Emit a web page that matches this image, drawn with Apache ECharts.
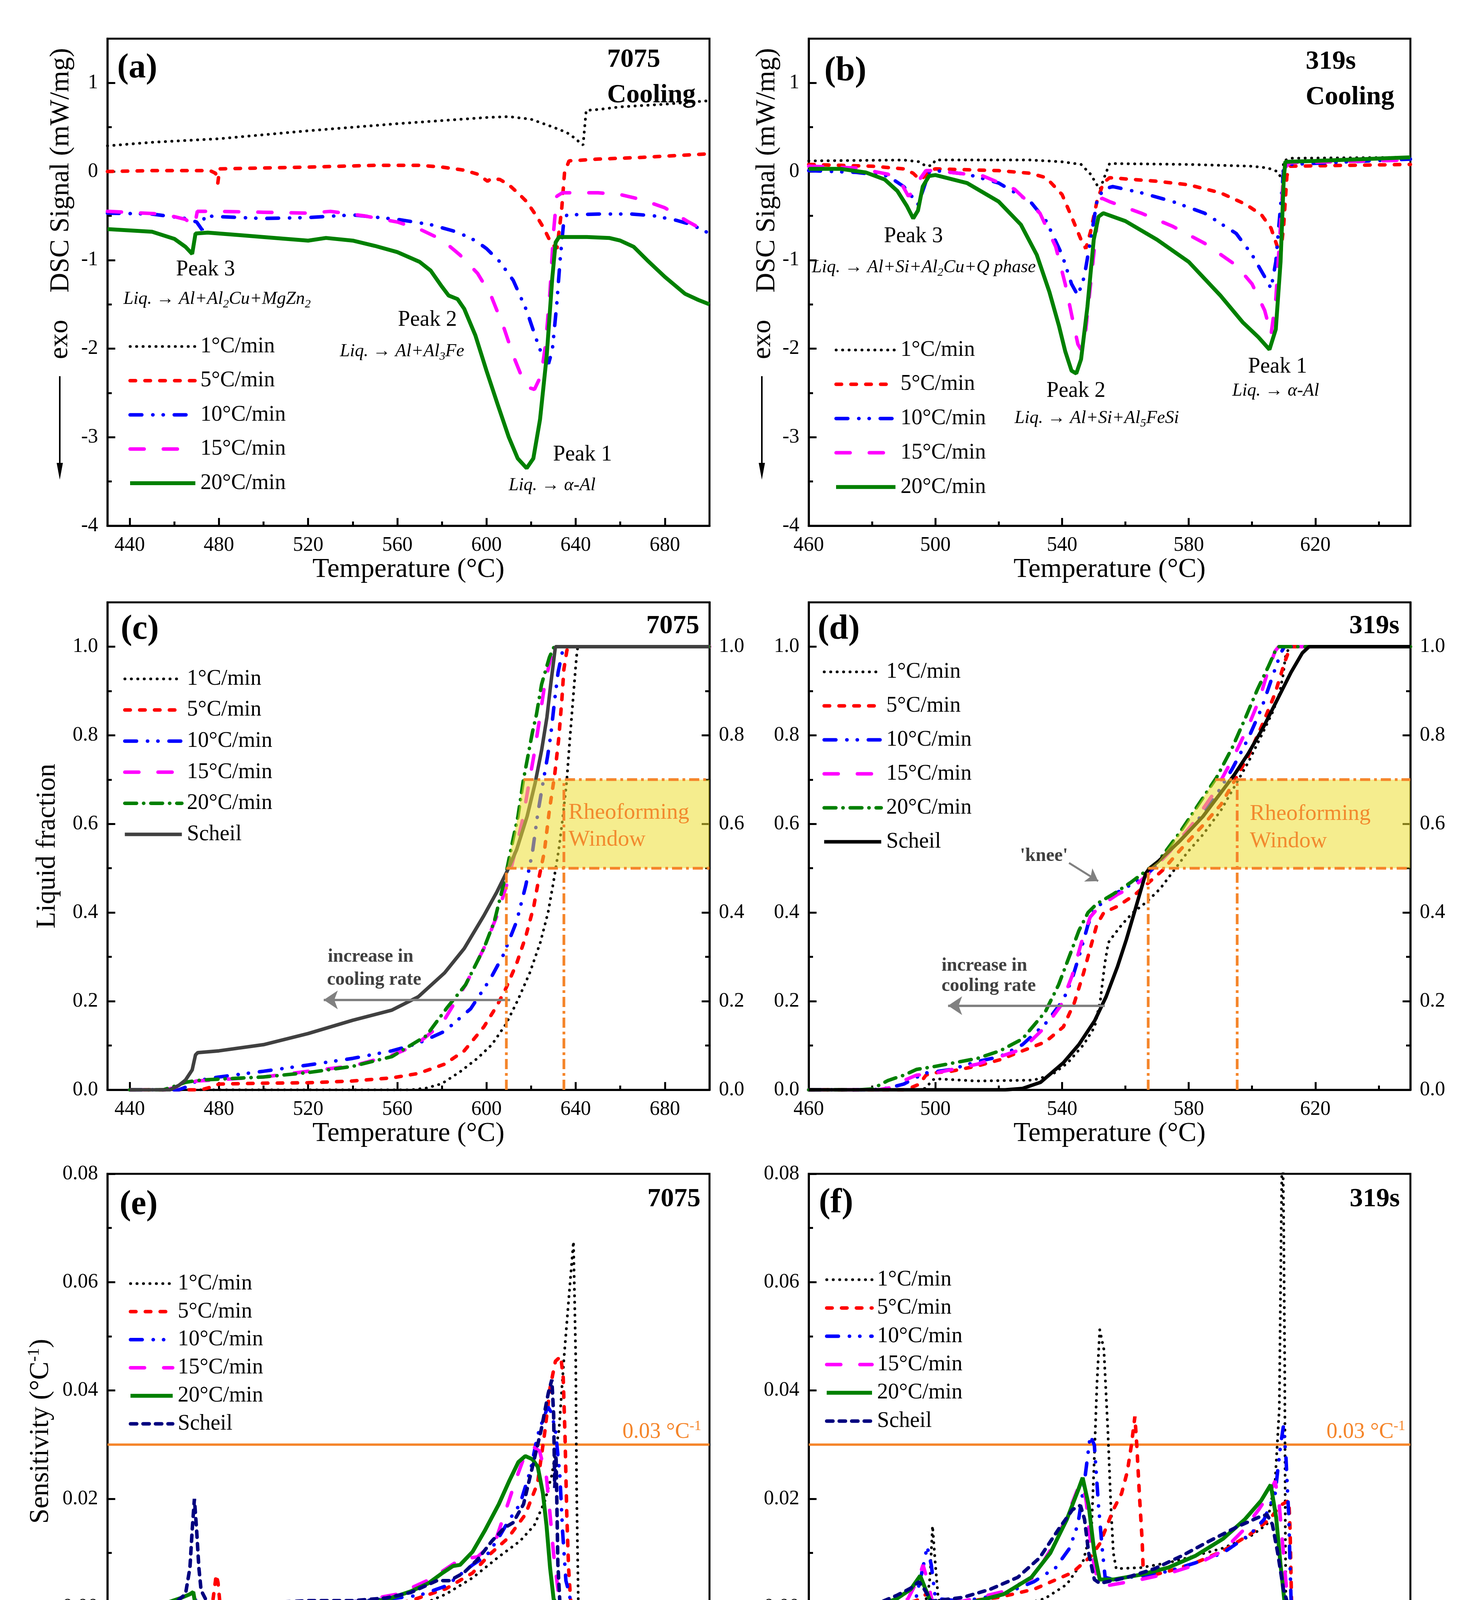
<!DOCTYPE html>
<html>
<head>
<meta charset="utf-8">
<script src="https://cdn.jsdelivr.net/npm/echarts@6.0.0/dist/echarts.min.js"></script>
<style>
  html, body { margin: 0; padding: 0; background: #fff; }
  #chart { width: 3760px; height: 4460px; }
</style>
</head>
<body>
<div id="chart"></div>
<script>
// ---- tick values ----
const xTicks7075 = [440, 480, 520, 560, 600, 640, 680];
const xMinor7075 = [460, 500, 540, 580, 620, 660];
const xTicks319 = [460, 500, 540, 580, 620];
const xMinor319 = [480, 520, 560, 600, 640];
const yTicksDsc = [-4, -3, -2, -1, 0, 1];
const yMinorDsc = [-3.5, -2.5, -1.5, -0.5, 0.5];
const yTicksFrac = [0, 0.2, 0.4, 0.6, 0.8, 1.0];
const yMinorFrac = [0.1, 0.3, 0.5, 0.7, 0.9];
const yTicksSens = [0, 0.02, 0.04, 0.06, 0.08];
const yMinorSens = [-0.01, 0.01, 0.03, 0.05, 0.07];

const rateNames = ['1°C/min', '5°C/min', '10°C/min', '15°C/min', '20°C/min'];

// ---- (a) 7075 DSC, mW/mg ----
const dscA1 = [[430,0.29],[450,0.33],[480,0.37],[520,0.46],[560,0.54],[600,0.61],[610,0.62],[620,0.59],[630,0.5],[636,0.44],[640,0.37],[642.5,0.31],[643.3,0.30],[644.7,0.69],[650,0.70],[660,0.73],[680,0.76],[700,0.8]];
const dscA5 = [[430,0.0],[450,0.01],[476,0.01],[478.5,-0.02],[479.5,-0.13],[480.3,0.03],[500,0.04],[520,0.05],[550,0.07],[570,0.07],[580,0.05],[590,0.015],[596,-0.03],[600.5,-0.11],[602,-0.08],[606,-0.09],[610,-0.15],[614,-0.24],[618,-0.34],[622.6,-0.51],[625.7,-0.64],[629,-0.81],[631.6,-0.87],[633.7,-0.43],[635,-0.01],[637,0.12],[650,0.14],[670,0.16],[700,0.2]];
const dscA10 = [[430,-0.47],[450,-0.48],[465,-0.53],[470,-0.57],[472.5,-0.66],[473.5,-0.5],[480,-0.51],[500,-0.53],[520,-0.52],[540,-0.49],[560,-0.54],[575,-0.6],[585,-0.67],[590,-0.72],[595,-0.78],[600,-0.87],[606,-1.02],[612,-1.23],[618,-1.57],[622,-1.87],[625,-2.08],[627.8,-2.17],[629.5,-2.02],[631.5,-1.5],[633,-1.0],[634.5,-0.6],[636,-0.49],[650,-0.48],[665,-0.48],[675,-0.5],[685,-0.55],[692,-0.6],[700,-0.7]];
const dscA15 = [[430,-0.45],[455,-0.48],[465,-0.54],[469,-0.62],[470.3,-0.45],[480,-0.45],[500,-0.46],[520,-0.47],[530,-0.45],[545,-0.5],[560,-0.57],[570,-0.65],[580,-0.77],[588,-0.94],[596,-1.15],[602,-1.4],[608,-1.78],[612,-2.08],[616,-2.33],[619,-2.44],[621.5,-2.46],[624.5,-2.3],[626.5,-1.95],[628.5,-1.35],[630,-0.7],[631.5,-0.28],[634,-0.24],[650,-0.24],[660,-0.26],[670,-0.32],[680,-0.41],[690,-0.56],[700,-0.7]];
const dscA20 = [[430,-0.65],[450,-0.68],[460,-0.76],[465,-0.85],[468,-0.93],[469.5,-0.7],[475,-0.69],[490,-0.72],[510,-0.76],[520,-0.78],[528,-0.75],[540,-0.78],[550,-0.84],[560,-0.91],[570,-1.02],[575,-1.12],[580,-1.3],[583,-1.4],[587,-1.44],[590,-1.55],[595,-1.85],[600,-2.25],[605,-2.63],[610,-3.0],[614,-3.24],[618,-3.35],[621,-3.24],[624,-2.8],[627,-2.08],[629.5,-1.2],[631,-0.8],[632.5,-0.74],[645,-0.74],[655,-0.75],[660,-0.78],[666,-0.85],[672,-1.0],[680,-1.19],[689,-1.38],[695,-1.45],[700,-1.5]];

// ---- (b) 319s DSC, mW/mg ----
const dscB1 = [[460,0.12],[490,0.13],[495,0.11],[497,0.06],[499,0.07],[500,0.13],[530,0.13],[540,0.11],[546,0.08],[549,-0.03],[551,-0.15],[552,-0.2],[553.5,-0.05],[555,0.09],[580,0.08],[600,0.06],[605,0.04],[608,0.0],[609.5,-0.09],[610,0.12],[612,0.15],[650,0.16]];
const dscB5 = [[460,0.08],[480,0.06],[490,0.03],[493,-0.02],[495,-0.09],[497,-0.05],[498,0.01],[500,0.03],[520,0.01],[530,-0.02],[535,-0.07],[540,-0.26],[543,-0.51],[546,-0.77],[547.5,-0.87],[549,-0.68],[551,-0.34],[553,-0.13],[555,-0.07],[570,-0.11],[580,-0.15],[590,-0.24],[598,-0.37],[603,-0.49],[606,-0.64],[608,-0.85],[609,-0.94],[610,-0.6],[611,-0.05],[612,0.06],[650,0.08]];
const dscB10 = [[460,0.01],[475,-0.01],[485,-0.05],[490,-0.17],[493,-0.3],[494.5,-0.37],[496,-0.22],[498,-0.01],[500,0.01],[510,-0.03],[520,-0.13],[530,-0.34],[535,-0.56],[540,-0.94],[543,-1.27],[545,-1.4],[547,-1.19],[549,-0.77],[551,-0.34],[553,-0.2],[556,-0.17],[565,-0.24],[575,-0.34],[585,-0.47],[595,-0.7],[600,-0.94],[604,-1.19],[606,-1.32],[607.5,-1.02],[609,-0.39],[610,0.03],[612,0.08],[650,0.14]];
const dscB15 = [[460,0.06],[475,0.04],[485,-0.03],[489,-0.12],[491.5,-0.28],[493,-0.22],[495,-0.09],[497,0.01],[500,0.01],[515,-0.05],[525,-0.2],[533,-0.47],[538,-0.85],[541,-1.27],[543.5,-1.7],[545,-1.95],[546,-2.01],[547.5,-1.78],[549,-1.27],[551,-0.6],[552.5,-0.3],[555,-0.34],[565,-0.47],[575,-0.62],[585,-0.81],[595,-1.06],[600,-1.27],[604,-1.57],[606,-1.84],[607.5,-1.44],[609,-0.6],[610,0.03],[612,0.1],[650,0.13]];
const dscB20 = [[460,0.03],[470,0.03],[478,-0.01],[484,-0.09],[488,-0.22],[491,-0.39],[493,-0.53],[494.5,-0.44],[496,-0.17],[498,-0.05],[500,-0.04],[510,-0.13],[520,-0.34],[527,-0.6],[532,-0.94],[536,-1.36],[539,-1.74],[541,-2.03],[543,-2.25],[544.5,-2.28],[546,-2.12],[548,-1.53],[550,-0.77],[551.5,-0.51],[553,-0.47],[560,-0.56],[570,-0.77],[580,-1.02],[590,-1.4],[597,-1.7],[602,-1.87],[605.5,-2.01],[607.5,-1.78],[609,-1.02],[610,-0.09],[610.5,0.11],[620,0.12],[650,0.16]];

// ---- (c) 7075 liquid fraction ----
const fracC1 = [[440,0],[566,0],[573,0.004],[580,0.014],[588.2,0.041],[595.9,0.071],[602.4,0.102],[608.8,0.149],[614.1,0.203],[619.4,0.264],[624.1,0.332],[627.6,0.4],[630,0.468],[632.4,0.542],[634.1,0.61],[635.9,0.692],[637.4,0.793],[638.8,0.881],[640,0.956],[640.6,0.99],[641,1],[700,1]];
const fracC5 = [[440,0],[472,0],[477,0.007],[480,0.013],[500,0.015],[520,0.016],[540,0.02],[557.6,0.027],[569.4,0.037],[581.2,0.058],[590,0.088],[598.8,0.142],[604.7,0.19],[608.8,0.23],[613.5,0.285],[617.6,0.346],[621.2,0.414],[623.5,0.478],[625.9,0.536],[628.2,0.631],[630.6,0.712],[632.4,0.793],[633.8,0.881],[634.7,0.949],[636,0.99],[636.5,1],[700,1]];
const fracC10 = [[440,0],[462,0],[466,0.008],[470,0.02],[475,0.025],[480,0.029],[500,0.042],[520,0.056],[540,0.071],[557.6,0.088],[569.4,0.105],[581.2,0.132],[592.9,0.183],[601.8,0.251],[607.6,0.305],[613.5,0.38],[617.6,0.461],[620.6,0.536],[623,0.624],[625.3,0.692],[627.4,0.753],[628.8,0.8],[630.6,0.881],[632.1,0.942],[634.1,0.99],[634.5,1],[700,1]];
const fracC15 = [[440,0],[456,0],[460,0.005],[465,0.013],[470,0.02],[480,0.023],[500,0.029],[520,0.042],[540,0.054],[557.6,0.078],[568,0.1],[580,0.149],[590.6,0.237],[598.8,0.319],[604.7,0.393],[609.4,0.468],[613,0.54],[616.5,0.617],[618.8,0.685],[621.2,0.753],[623.5,0.827],[625.9,0.908],[628.8,0.976],[630.6,0.993],[631,1],[700,1]];
const fracC20 = [[440,0],[455,0],[460,0.008],[465,0.017],[470,0.021],[475,0.023],[500,0.029],[520,0.039],[540,0.053],[557.6,0.075],[573,0.122],[582.4,0.186],[590.6,0.237],[598.8,0.319],[603.5,0.38],[608.2,0.475],[611.8,0.563],[614.1,0.617],[616.5,0.698],[620.6,0.807],[622.4,0.847],[624.7,0.915],[628.2,0.976],[630,0.997],[630.5,1],[700,1]];
const fracCScheil = [[440,0],[458,0],[462,0.01],[465,0.022],[468,0.045],[469.5,0.079],[470.5,0.084],[480,0.088],[500,0.102],[520,0.127],[540,0.157],[557.6,0.18],[569.4,0.21],[581.2,0.264],[590,0.319],[598.8,0.393],[604.7,0.447],[609.4,0.495],[613.5,0.542],[618.2,0.617],[621.8,0.692],[624.7,0.766],[627.1,0.841],[628.8,0.915],[630.9,1],[700,1]];

// ---- (d) 319s liquid fraction ----
const fracD1 = [[460,0],[495,0],[497,0.004],[499,0.022],[500,0.025],[513,0.02],[531,0.022],[536.8,0.034],[541.8,0.061],[546.8,0.102],[550.3,0.142],[552.1,0.203],[553.5,0.285],[554.6,0.332],[556,0.346],[558.9,0.373],[562.4,0.4],[566.7,0.424],[571,0.454],[575.3,0.495],[579.6,0.536],[584.5,0.576],[590.2,0.631],[594.5,0.685],[598.8,0.739],[603,0.8],[606.6,0.854],[608.7,0.895],[609.8,0.936],[610.5,0.976],[611.6,0.997],[612,1],[650,1]];
const fracD5 = [[460,0],[490,0],[492,0.004],[495,0.013],[497,0.033],[499,0.038],[505,0.042],[513.3,0.054],[520.4,0.068],[527.5,0.088],[534.7,0.108],[540.4,0.142],[543.9,0.197],[546.8,0.264],[548.9,0.319],[551,0.373],[553.2,0.4],[557.5,0.414],[563.1,0.441],[567.4,0.468],[571.7,0.495],[577.4,0.542],[584.5,0.597],[590.2,0.644],[594.5,0.698],[598.8,0.753],[603,0.82],[607.3,0.895],[610.2,0.963],[611.6,0.99],[612.2,1],[650,1]];
const fracD10 = [[460,0],[480,0],[485,0.004],[490,0.013],[494,0.028],[497,0.038],[505,0.046],[513.3,0.064],[520.4,0.075],[527.5,0.102],[534.7,0.149],[540.4,0.203],[543.2,0.251],[546.1,0.319],[548.2,0.373],[550.3,0.407],[554.6,0.434],[559.6,0.454],[564.6,0.475],[568.1,0.495],[573.8,0.536],[580.9,0.59],[588.1,0.658],[593.8,0.725],[598.8,0.793],[603,0.861],[606.6,0.936],[609.1,0.986],[610.2,1],[650,1]];
const fracD15 = [[460,0],[482,0],[486,0.005],[490,0.021],[494,0.033],[500,0.038],[513.3,0.058],[527.5,0.092],[534.7,0.142],[539.6,0.19],[543.2,0.258],[546.1,0.332],[548.9,0.39],[551.8,0.414],[557.5,0.441],[563.1,0.461],[567.4,0.488],[573.8,0.536],[580.9,0.597],[588.1,0.671],[593.8,0.746],[598.8,0.82],[602.3,0.881],[605.2,0.949],[607.3,0.99],[608.4,1],[650,1]];
const fracD20 = [[460,0],[476,0],[480,0.002],[485,0.021],[490,0.033],[494,0.046],[500,0.053],[513.3,0.071],[520.4,0.088],[527.5,0.115],[534.7,0.176],[538.9,0.237],[542.5,0.305],[545.3,0.359],[548.2,0.4],[551,0.42],[556,0.441],[561.7,0.468],[566.7,0.495],[570.3,0.515],[577.4,0.583],[583.1,0.644],[588.8,0.705],[593.8,0.773],[598,0.841],[601.6,0.902],[605.2,0.956],[607.3,0.99],[608.5,1],[650,1]];
const fracDScheil = [[460,0],[522,0],[527.5,0.003],[533.2,0.017],[540.4,0.061],[545.3,0.102],[550.3,0.156],[553.9,0.21],[557.5,0.278],[560.3,0.339],[563.1,0.407],[565.3,0.461],[566.4,0.488],[567.4,0.498],[570.3,0.515],[577.4,0.563],[584.5,0.617],[590.2,0.671],[594.5,0.712],[598.8,0.759],[603.7,0.82],[608,0.881],[612.3,0.942],[615.9,0.986],[618,1],[650,1]];

// ---- (e) 7075 sensitivity, 1/°C ----
const sensE1 = [[440,0],[545,0],[550,-0.0002],[557,-0.0005],[566,0.0005],[575,0.0012],[581.8,0.0024],[593.7,0.0054],[605.5,0.0093],[615,0.0122],[621.4,0.0151],[626.1,0.0195],[629.3,0.0244],[632.5,0.0327],[634.8,0.0463],[637.2,0.0585],[639,0.0675],[640,0.0463],[640.4,0.022],[641.2,0],[700,0]];
const sensE5 = [[440,0],[470,0],[477,0.0003],[478.8,0.006],[479.6,0.0045],[480.5,0.0005],[482,0],[500,-0.0002],[540,0],[560,0.0007],[566,0.0012],[581.8,0.0034],[593.7,0.0063],[601.6,0.0098],[609.5,0.0127],[617.4,0.0171],[622.9,0.0229],[626.1,0.0322],[628.5,0.0405],[630.9,0.0454],[633.3,0.0463],[634.4,0.0424],[635.2,0.0317],[636,0.0171],[636.8,0.0073],[637.6,0.002],[638,0],[700,0]];
const sensE10 = [[440,0],[450,-0.0003],[460,0.0001],[467,0.001],[470,0.0014],[472,0.0003],[480,0.0005],[500,0.0007],[540,0.001],[560,0.0017],[570,0.0022],[581.8,0.0039],[593.7,0.0078],[600,0.0095],[605,0.0125],[610,0.016],[615,0.019],[619.8,0.0254],[622.9,0.0317],[625.3,0.0346],[627.5,0.037],[629,0.036],[630.9,0.0327],[632.9,0.0244],[634.1,0.0141],[635.6,0.0049],[637.2,0.0024],[638,0],[700,0]];
const sensE15 = [[440,0],[450,-0.0002],[460,0.0003],[466,0.0017],[468.5,0.0025],[470,0.0003],[480,0.0002],[500,0.0005],[540,0.0009],[560,0.0024],[575,0.0052],[588.1,0.0088],[596,0.0093],[604,0.0122],[608.7,0.018],[613.5,0.0239],[617.4,0.0283],[621.4,0.0295],[623.8,0.0288],[626.9,0.0239],[628.5,0.0171],[630.1,0.0098],[631.7,0.0044],[632.9,0.0005],[633.5,0],[700,0]];
const sensE20 = [[440,0],[450,0.0003],[458,0.001],[463,0.0017],[467,0.0024],[468.5,0.0028],[469.5,0.0003],[480,0.0002],[500,0.0003],[520,0.0007],[540,0.0007],[555,0.0014],[566,0.0029],[573.9,0.0044],[580.2,0.0063],[585,0.0076],[588.1,0.0078],[593.7,0.0102],[599.2,0.0141],[605.5,0.019],[610.3,0.0234],[614.3,0.0268],[617.4,0.0279],[620.6,0.0273],[623,0.0259],[625.3,0.021],[626.9,0.0151],[628.5,0.0073],[630.1,0.0015],[632.1,0],[700,0]];
const sensEScheil = [[440,0],[455,0.0003],[460,0.0007],[465,0.0024],[467,0.0073],[468,0.0142],[469,0.02],[470,0.0142],[471,0.0073],[472,0.0031],[475,0.0007],[480,0.0004],[500,0.0008],[520,0.0012],[540,0.0012],[555,0.0017],[566,0.0027],[577.8,0.0049],[583.4,0.0049],[589.7,0.0063],[596,0.0088],[602.4,0.0122],[607.9,0.0146],[611.9,0.0156],[616.6,0.019],[620.6,0.0259],[624.5,0.0327],[627.7,0.0395],[629.3,0.042],[630.1,0.0356],[630.6,0.022],[631.2,0.028],[632,0.008],[633,0],[700,0]];
const sensEScheilTail = [[461,-0.0098],[462,-0.0078]];

// ---- (f) 319s sensitivity, 1/°C ----
const sensF1 = [[460,0],[495.7,0],[497.5,0.002],[498.3,0.0055],[499.1,0.015],[500,0.0078],[500.9,0.0016],[502.6,-0.0004],[517.3,-0.0004],[526,0.0002],[534.6,0.0016],[541.5,0.0042],[546.7,0.0086],[549.3,0.0144],[550.2,0.0277],[551,0.041],[551.9,0.0512],[553.2,0.0476],[554.5,0.0321],[555.4,0.0188],[556.2,0.01],[557.1,0.0071],[564.9,0.0073],[573.5,0.0082],[582.2,0.0095],[590.8,0.0109],[599.5,0.0131],[604.7,0.0153],[607.3,0.0233],[608.6,0.0366],[609.2,0.07],[609.6,0.09],[610,0.07],[610.3,0.045],[610.5,0.0144],[610.7,-0.0007],[611.6,0],[650,0]];
const sensF5 = [[460,0],[480,0],[490,0.0006],[494,0.0012],[496,0.0019],[497.5,0.0026],[499,0.0009],[500,0.0006],[510,0.0011],[520,0.0018],[531.1,0.0033],[543.3,0.0064],[549.3,0.0095],[551.9,0.0117],[556.2,0.018],[558.8,0.021],[560.6,0.025],[561.9,0.0299],[563,0.0352],[563.6,0.0299],[564.4,0.021],[565.3,0.0122],[565.7,0.0055],[573.5,0.0066],[582.2,0.0082],[590.8,0.0104],[599.5,0.0135],[605.5,0.0162],[609,0.0188],[611.6,0.0197],[612,0.0144],[612.5,0],[650,0]];
const sensF10 = [[460,0],[488,0],[492,0.001],[494,0.002],[496,0.0071],[497.4,0.0112],[498.7,0.0078],[500,0.0016],[508.7,0.0011],[521.6,0.0024],[531.1,0.0047],[538,0.0073],[542.4,0.0109],[545,0.0153],[547.1,0.0233],[548.9,0.0317],[550.2,0.0299],[551.5,0.0188],[552.8,0.01],[553.6,0.0055],[556.2,0.0051],[564.9,0.0058],[573.5,0.0066],[582.2,0.0082],[590.8,0.01],[599.5,0.0135],[603.8,0.0162],[607.3,0.021],[609,0.0299],[609.9,0.0334],[610.7,0.0277],[611.6,0.0166],[612,0.0078],[612.5,-0.0024],[612.9,0],[650,0]];
const sensF15 = [[460,0],[482,0],[488,0.0009],[491.3,0.0015],[494.8,0.0055],[496.1,0.0078],[497.4,0.0051],[499.1,0.0009],[508.7,0.0011],[521.6,0.0029],[531.1,0.0055],[538,0.0122],[542.4,0.018],[545,0.0219],[546.3,0.0228],[547.6,0.0197],[549.3,0.01],[551,0.0055],[554.5,0.004],[564.9,0.0051],[573.5,0.0062],[582.2,0.0078],[590.8,0.0104],[596.9,0.014],[602.1,0.018],[605.5,0.021],[607.3,0.0233],[608.6,0.0188],[609.9,0.01],[611.2,0.0011],[612,0],[650,0]];
const sensF20 = [[460,0],[475,0],[482.7,0.0004],[487.9,0.0016],[492.2,0.0033],[495.2,0.0058],[496.9,0.0033],[498.7,0.0007],[504.3,0.0004],[513,0.0011],[521.6,0.0024],[530.3,0.0055],[536.3,0.01],[541.5,0.0162],[545,0.0215],[546.5,0.0239],[548.4,0.0188],[550.2,0.01],[551.9,0.0051],[556.2,0.0051],[564.9,0.006],[573.5,0.0073],[582.2,0.0095],[590.8,0.0126],[597.7,0.0162],[602.9,0.0197],[605.9,0.0226],[607.6,0.0166],[609,0.0078],[610.3,0.0007],[611.6,0],[650,0]];
const sensFScheil = [[460,0],[475,0.0002],[482.7,0.0009],[487.9,0.0022],[492.2,0.0035],[494.8,0.0047],[496.5,0.0033],[498.7,0.0011],[508.7,0.0018],[517.3,0.0033],[526,0.0055],[532.9,0.0091],[538.9,0.0144],[543.3,0.018],[545.8,0.0188],[547.1,0.0162],[548.4,0.01],[550.2,0.0051],[551.9,0.0044],[560.6,0.0055],[569.2,0.0071],[577.9,0.0095],[586.5,0.0122],[595.2,0.0148],[602.1,0.0166],[604.7,0.0171],[606.4,0.0153],[608.1,0.01],[609.9,0.0033],[611.6,0],[650,0]];

// rheoforming window: liquid fraction band and its temperature limits
const windowFrac = [0.5, 0.7];
const windowTempC = [608.9, 634.7];
const windowTempD = [567.2, 595.3];
const sensLimit = 0.03;

// ---- styling ----
const FF = "'Liberation Serif','Times New Roman',serif";
const ORANGE = '#f5852a';
const ST = {
  r1:  { color: '#000000', width: 7, type: [0.5, 16], cap: 'round' },
  r5:  { color: '#ff0000', width: 9, type: [14, 24], cap: 'round' },
  r10: { color: '#0000ff', width: 9, type: [30, 28, 0.5, 26, 0.5, 28], cap: 'round' },
  r15: { color: '#ff00ff', width: 9, type: [36, 49], cap: 'round' },
  r20: { color: '#008000', width: 10, type: 'solid' },
  r20dd: { color: '#008000', width: 9, type: [30, 18, 0.5, 18], cap: 'round' },
  scheilGrey: { color: '#404040', width: 9, type: 'solid' },
  scheilBlack: { color: '#000000', width: 9, type: 'solid' },
  scheilNavy: { color: '#00007f', width: 9, type: [16, 16], cap: 'round' }
};

const grids = [
  { left: 275, top: 99, width: 1541, height: 1247 },
  { left: 2070, top: 99, width: 1540, height: 1247 },
  { left: 275, top: 1542, width: 1541, height: 1248 },
  { left: 2070, top: 1542, width: 1540, height: 1248 },
  { left: 275, top: 3005, width: 1541, height: 1248 },
  { left: 2070, top: 3005, width: 1540, height: 1248 }
].map(g => Object.assign(g, { show: true, borderColor: '#000', borderWidth: 5, backgroundColor: 'transparent' }));

const xAxis = [], yAxis = [], series = [], legend = [], graphic = [];

function addX(gi, min, max, ticks, minors) {
  const base = { gridIndex: gi, type: 'value', min, max, position: 'bottom', splitLine: { show: false } };
  xAxis.push(Object.assign({}, base, {
    axisLine: { show: true, onZero: false, lineStyle: { color: '#000', width: 5 } },
    axisTick: { show: true, inside: true, length: 20, customValues: ticks, lineStyle: { color: '#000', width: 5 } },
    axisLabel: { show: true, customValues: ticks, margin: 24, fontSize: 52, fontFamily: FF, color: '#000' },
    name: 'Temperature (°C)', nameLocation: 'middle', nameGap: 78,
    nameTextStyle: { fontSize: 70, fontFamily: FF, color: '#000' }
  }));
  const idx = xAxis.length - 1;
  xAxis.push(Object.assign({}, base, {
    axisLine: { show: false, onZero: false },
    axisTick: { show: true, inside: true, length: 11, customValues: minors, lineStyle: { color: '#000', width: 5 } },
    axisLabel: { show: false }
  }));
  return idx;
}

function addY(gi, min, max, ticks, minors, fmt, pos) {
  const base = { gridIndex: gi, type: 'value', min, max, position: pos, splitLine: { show: false } };
  yAxis.push(Object.assign({}, base, {
    axisLine: { show: true, onZero: false, lineStyle: { color: '#000', width: 5 } },
    axisTick: { show: true, inside: true, length: 20, customValues: ticks, lineStyle: { color: '#000', width: 5 } },
    axisLabel: { show: true, customValues: ticks, margin: 24, fontSize: 52, fontFamily: FF, color: '#000', formatter: fmt }
  }));
  const idx = yAxis.length - 1;
  yAxis.push(Object.assign({}, base, {
    axisLine: { show: false, onZero: false },
    axisTick: { show: true, inside: true, length: 11, customValues: minors, lineStyle: { color: '#000', width: 5 } },
    axisLabel: { show: false }
  }));
  return idx;
}

function curve(key, xi, yi, name, data, style, z) {
  series.push({
    type: 'line', name: key + '|' + name, xAxisIndex: xi, yAxisIndex: yi,
    data, symbol: 'none', showSymbol: false, clip: true, z: z || 2,
    lineStyle: style, itemStyle: { color: style.color }, emphasis: { disabled: true }
  });
}

// each legend row is as tall as its 56px text
function addLegend(key, names, left, firstY, step, itemWidth) {
  const rowH = 56;
  legend.push({
    orient: 'vertical', left, top: firstY - rowH / 2, itemWidth, itemHeight: 40, itemGap: step - rowH,
    selectedMode: false, data: names.map(n => key + '|' + n),
    formatter: n => n.split('|')[1],
    itemStyle: { opacity: 0 },
    lineStyle: { width: 'inherit', type: 'inherit', cap: 'inherit' },
    textStyle: { fontFamily: FF, fontSize: 56, color: '#000', lineHeight: rowH, padding: [0, 0, 0, 8] }
  });
}

function text(x, y, str, o) {
  o = o || {};
  const align = o.align || 'left';
  graphic.push({
    type: 'text', x, y, z: 100, rotation: o.rot || 0, silent: true,
    style: {
      text: str, fill: o.color || '#000', fontFamily: FF,
      fontSize: o.size || 56, fontWeight: o.weight || 'normal', fontStyle: o.italic ? 'italic' : 'normal',
      align, verticalAlign: 'middle', textAlign: align, textVerticalAlign: 'middle',
      rich: o.rich
    }
  });
}

// rich text "Liq. → Al+Al_2Cu" with subscripts
const liqRich = {
  i: { fontFamily: FF, fontSize: 46, fontStyle: 'italic', lineHeight: 56, verticalAlign: 'middle', fill: '#000' },
  s: { fontFamily: FF, fontSize: 30, fontStyle: 'italic', lineHeight: 28, verticalAlign: 'bottom', fill: '#000' }
};
function liq(x, y, s) {
  const str = s.split(/_(\d)/).map((p, i) => i % 2 ? '{s|' + p + '}' : (p ? '{i|' + p + '}' : '')).join('');
  text(x, y, str, { rich: liqRich });
}

function crossT(data, f) {
  for (let i = 1; i < data.length; i++) {
    const [t0, v0] = data[i - 1], [t1, v1] = data[i];
    if (v0 <= f && v1 >= f && v1 !== v0) return t0 + (f - v0) * (t1 - t0) / (v1 - v0);
  }
  return data[data.length - 1][0];
}

function addWindow(xi, yi, edgeCurve, temps, tMax) {
  const fr = windowFrac;
  const poly = [[crossT(edgeCurve, fr[0]), fr[0]]];
  edgeCurve.forEach(p => { if (p[1] > fr[0] && p[1] < fr[1]) poly.push(p); });
  poly.push([crossT(edgeCurve, fr[1]), fr[1]], [tMax, fr[1]], [tMax, fr[0]]);
  series.push({
    type: 'custom', xAxisIndex: xi, yAxisIndex: yi, z: 5, silent: true, clip: true,
    data: [[temps[0], fr[0]]],
    renderItem: (params, api) => ({
      type: 'polygon',
      shape: { points: poly.map(p => api.coord(p)) },
      style: { fill: 'rgba(237,222,50,0.55)' }
    })
  });
  const orange = { color: ORANGE, width: 7, type: [26, 10, 7, 10] };
  const segs = [
    [[temps[0], 0], [temps[0], fr[0]]],
    [[temps[1], 0], [temps[1], fr[1]]],
    [[temps[0], fr[0]], [tMax, fr[0]]],
    [[crossT(edgeCurve, fr[1]), fr[1]], [tMax, fr[1]]]
  ];
  segs.forEach(seg => series.push({
    type: 'line', xAxisIndex: xi, yAxisIndex: yi, data: seg, symbol: 'none', z: 6,
    lineStyle: orange, silent: true
  }));
}

function arrow(xi, yi, from, to, width, size) {
  series.push({
    type: 'line', xAxisIndex: xi, yAxisIndex: yi, data: [], z: 7,
    markLine: {
      silent: true, animation: false, symbol: ['none', 'arrow'], symbolSize: size,
      lineStyle: { color: '#808080', width, type: 'solid' }, label: { show: false },
      data: [[{ coord: from }, { coord: to }]]
    }
  });
}

function threshold(xi, yi, tMin, tMax) {
  series.push({
    type: 'line', xAxisIndex: xi, yAxisIndex: yi, z: 1, symbol: 'none', silent: true,
    data: [[tMin, sensLimit], [tMax, sensLimit]],
    lineStyle: { color: ORANGE, width: 6, type: 'solid' }
  });
}

const fmtInt = v => String(v);
const fmt1 = v => v.toFixed(1);
const fmt2 = v => v.toFixed(2);

// ---------- (a) ----------
let xi = addX(0, 430, 700, xTicks7075, xMinor7075);
let yi = addY(0, -4, 1.5, yTicksDsc, yMinorDsc, fmtInt, 'left');
[dscA1, dscA5, dscA10, dscA15, dscA20].forEach((d, i) =>
  curve('a', xi, yi, rateNames[i], d, [ST.r1, ST.r5, ST.r10, ST.r15, ST.r20][i]));
addLegend('a', rateNames, 323, 882, 87.5, 167);

// ---------- (b) ----------
xi = addX(1, 460, 650, xTicks319, xMinor319);
yi = addY(1, -4, 1.5, yTicksDsc, yMinorDsc, fmtInt, 'left');
[dscB1, dscB5, dscB10, dscB15, dscB20].forEach((d, i) =>
  curve('b', xi, yi, rateNames[i], d, [ST.r1, ST.r5, ST.r10, ST.r15, ST.r20][i]));
addLegend('b', rateNames, 2130, 891, 87.7, 152);

// ---------- (c) ----------
const fracNames = rateNames.concat(['Scheil']);
xi = addX(2, 430, 700, xTicks7075, xMinor7075);
yi = addY(2, 0, 1.1, yTicksFrac, yMinorFrac, fmt1, 'left');
addY(2, 0, 1.1, yTicksFrac, yMinorFrac, fmt1, 'right');
[fracC1, fracC5, fracC10, fracC15, fracC20, fracCScheil].forEach((d, i) =>
  curve('c', xi, yi, fracNames[i], d, [ST.r1, ST.r5, ST.r10, ST.r15, ST.r20dd, ST.scheilGrey][i]));
addWindow(xi, yi, fracC20, windowTempC, 700);
arrow(xi, yi, [610.6, 0.203], [527, 0.203], 6, 36);
addLegend('c', fracNames, 310, 1733, 79.6, 146);

// ---------- (d) ----------
xi = addX(3, 460, 650, xTicks319, xMinor319);
yi = addY(3, 0, 1.1, yTicksFrac, yMinorFrac, fmt1, 'left');
addY(3, 0, 1.1, yTicksFrac, yMinorFrac, fmt1, 'right');
[fracD1, fracD5, fracD10, fracD15, fracD20, fracDScheil].forEach((d, i) =>
  curve('d', xi, yi, fracNames[i], d, [ST.r1, ST.r5, ST.r10, ST.r15, ST.r20dd, ST.scheilBlack][i]));
addWindow(xi, yi, fracD20, windowTempD, 650);
arrow(xi, yi, [553.5, 0.19], [504, 0.19], 6, 36);
arrow(xi, yi, [542.2, 0.512], [551.4, 0.471], 5, 30);
addLegend('d', fracNames, 2100, 1715, 87, 146);

// ---------- (e) ----------
xi = addX(4, 430, 700, xTicks7075, xMinor7075);
yi = addY(4, -0.01, 0.08, yTicksSens, yMinorSens, fmt2, 'left');
threshold(xi, yi, 430, 700);
[sensE1, sensE5, sensE10, sensE15, sensE20, sensEScheil].forEach((d, i) =>
  curve('e', xi, yi, fracNames[i], d, [ST.r1, ST.r5, ST.r10, ST.r15, ST.r20, ST.scheilNavy][i]));
series.push({ type: 'line', xAxisIndex: xi, yAxisIndex: yi, data: sensEScheilTail, symbol: 'none', lineStyle: ST.scheilNavy, silent: true });
addLegend('e', fracNames, 324, 3281, 71.8, 108);

// ---------- (f) ----------
xi = addX(5, 460, 650, xTicks319, xMinor319);
yi = addY(5, -0.01, 0.08, yTicksSens, yMinorSens, fmt2, 'left');
threshold(xi, yi, 460, 650);
[sensF1, sensF5, sensF10, sensF15, sensF20, sensFScheil].forEach((d, i) =>
  curve('f', xi, yi, fracNames[i], d, [ST.r1, ST.r5, ST.r10, ST.r15, ST.r20, ST.scheilNavy][i]));
addLegend('f', fracNames, 2106, 3271, 72.4, 116);

// ---------- texts ----------
[['(a)', 300, 175], ['(b)', 2110, 183], ['(c)', 309, 1612], ['(d)', 2093, 1612], ['(e)', 306, 3085], ['(f)', 2096, 3080]]
  .forEach(t => text(t[1], t[2], t[0], { size: 88, weight: 'bold' }));
text(1554, 153, '7075', { size: 68, weight: 'bold' });
text(1554, 244, 'Cooling', { size: 68, weight: 'bold' });
text(3342, 158, '319s', { size: 68, weight: 'bold' });
text(3342, 249, 'Cooling', { size: 68, weight: 'bold' });
text(1790, 1603, '7075', { size: 68, weight: 'bold', align: 'right' });
text(3582, 1603, '319s', { size: 68, weight: 'bold', align: 'right' });
text(1793, 3070, '7075', { size: 68, weight: 'bold', align: 'right' });
text(3583, 3070, '319s', { size: 68, weight: 'bold', align: 'right' });

// peak labels
text(526, 690, 'Peak 3', { align: 'center' });
liq(316, 766, 'Liq. → Al+Al_2Cu+MgZn_2');
text(1094, 819, 'Peak 2', { align: 'center' });
liq(870, 900, 'Liq. → Al+Al_3Fe');
text(1491, 1164, 'Peak 1', { align: 'center' });
liq(1302, 1243, 'Liq. → α-Al');
text(2338, 605, 'Peak 3', { align: 'center' });
liq(2078, 685, 'Liq. → Al+Si+Al_2Cu+Q phase');
text(2754, 1001, 'Peak 2', { align: 'center' });
liq(2597, 1071, 'Liq. → Al+Si+Al_5FeSi');
text(3270, 939, 'Peak 1', { align: 'center' });
liq(3154, 1001, 'Liq. → α-Al');

// y titles
text(157, 436, 'DSC Signal (mW/mg)', { size: 70, align: 'center', rot: Math.PI / 2 });
text(154, 869, 'exo', { size: 70, align: 'center', rot: Math.PI / 2 });
text(1964, 436, 'DSC Signal (mW/mg)', { size: 70, align: 'center', rot: Math.PI / 2 });
text(1953, 869, 'exo', { size: 70, align: 'center', rot: Math.PI / 2 });
text(122, 2166, 'Liquid fraction', { size: 70, align: 'center', rot: Math.PI / 2 });
text(105, 3664, '{m|Sensitivity (°C}{p|-1}{m|)}', {
  align: 'center', rot: Math.PI / 2,
  rich: {
    m: { fontFamily: FF, fontSize: 70, lineHeight: 76, verticalAlign: 'middle', fill: '#000' },
    p: { fontFamily: FF, fontSize: 42, lineHeight: 42, verticalAlign: 'top', fill: '#000' }
  }
});
[[153, 963], [1950, 963]].forEach(p => {
  graphic.push({ type: 'line', silent: true, z: 100, shape: { x1: p[0], y1: p[1], x2: p[0], y2: p[1] + 240 }, style: { stroke: '#000', lineWidth: 4 } });
  graphic.push({ type: 'polygon', silent: true, z: 100, shape: { points: [[p[0] - 8, p[1] + 222], [p[0] + 8, p[1] + 222], [p[0], p[1] + 265]] }, style: { fill: '#000' } });
});

// window / annotation texts
text(1455, 2081, 'Rheoforming', { size: 58, color: '#f28a2e' });
text(1455, 2150, 'Window', { size: 58, color: '#f28a2e' });
text(3199, 2084, 'Rheoforming', { size: 58, color: '#f28a2e' });
text(3199, 2154, 'Window', { size: 58, color: '#f28a2e' });
text(839, 2450, 'increase in', { size: 48, weight: 'bold', color: '#404040' });
text(837, 2509, 'cooling rate', { size: 48, weight: 'bold', color: '#404040' });
text(2410, 2473, 'increase in', { size: 48, weight: 'bold', color: '#404040' });
text(2410, 2525, 'cooling rate', { size: 48, weight: 'bold', color: '#404040' });
text(2672, 2192, "'knee'", { size: 48, weight: 'bold', color: '#404040', align: 'center' });

const limRich = {
  m: { fontFamily: FF, fontSize: 56, lineHeight: 64, verticalAlign: 'middle', fill: ORANGE },
  p: { fontFamily: FF, fontSize: 36, lineHeight: 36, verticalAlign: 'top', fill: ORANGE }
};
text(1795, 3666, '{m|0.03 °C}{p|-1}', { align: 'right', rich: limRich });
text(3597, 3666, '{m|0.03 °C}{p|-1}', { align: 'right', rich: limRich });

const chart = echarts.init(document.getElementById('chart'));
chart.setOption({
  backgroundColor: '#ffffff',
  animation: false,
  grid: grids,
  xAxis, yAxis, series, legend, graphic
});
</script>
</body>
</html>
